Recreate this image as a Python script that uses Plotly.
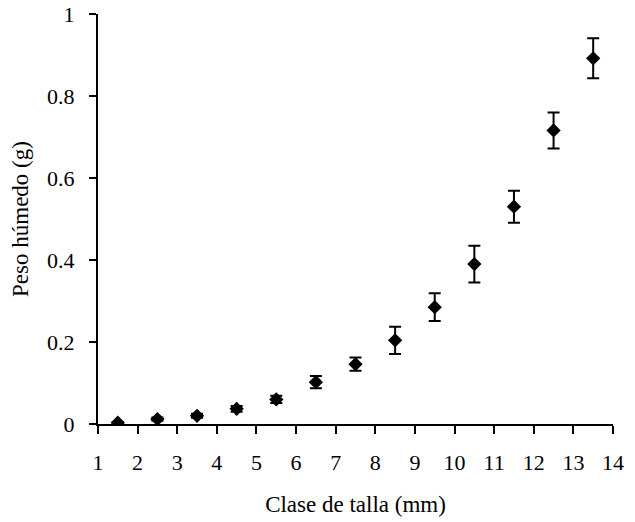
import plotly.graph_objects as go

clase = [1.5, 2.5, 3.5, 4.5, 5.5, 6.5, 7.5, 8.5, 9.5, 10.5, 11.5, 12.5, 13.5]
peso = [0.003, 0.012, 0.020, 0.037, 0.060, 0.102, 0.146, 0.204, 0.285, 0.390, 0.530, 0.716, 0.892]
error = [0.002, 0.004, 0.005, 0.007, 0.009, 0.015, 0.016, 0.033, 0.034, 0.045, 0.039, 0.044, 0.049]

x_ticks = list(range(1, 15))
y_ticks = [0, 0.2, 0.4, 0.6, 0.8, 1]
y_labels = ["0", "0.2", "0.4", "0.6", "0.8", "1"]

fig = go.Figure()
fig.add_trace(go.Scatter(
    x=clase, y=peso, mode="markers",
    marker=dict(symbol="diamond", size=11, color="black"),
    error_y=dict(type="data", array=error, visible=True, color="black", thickness=2, width=6),
    showlegend=False,
))

font = "Liberation Serif, Times New Roman, serif"
fig.update_layout(
    width=635, height=522,
    margin=dict(l=98, r=22, t=14, b=98),
    paper_bgcolor="white", plot_bgcolor="white",
    font=dict(family=font, size=22, color="black"),
    xaxis=dict(
        range=[1, 14], tickmode="array", tickvals=x_ticks,
        showgrid=False, zeroline=False, showline=True, linecolor="black", linewidth=2,
        ticks="outside", ticklen=8, tickwidth=2, tickcolor="black",
        ticklabelstandoff=10, automargin=False, ticklabeloverflow="allow",
        title=dict(text="Clase de talla (mm)", font=dict(size=23), standoff=21),
    ),
    yaxis=dict(
        range=[0, 1], tickmode="array", tickvals=y_ticks, ticktext=y_labels,
        showgrid=False, zeroline=False, showline=True, linecolor="black", linewidth=2,
        ticks="outside", ticklen=7, tickwidth=2, tickcolor="black",
        ticklabelstandoff=10, automargin=False, ticklabeloverflow="allow",
        title=dict(text="Peso húmedo (g)", font=dict(size=23), standoff=12),
    ),
)

fig.write_html("out.html", post_script="document.body.style.margin='0';",
               config={"displayModeBar": False})
